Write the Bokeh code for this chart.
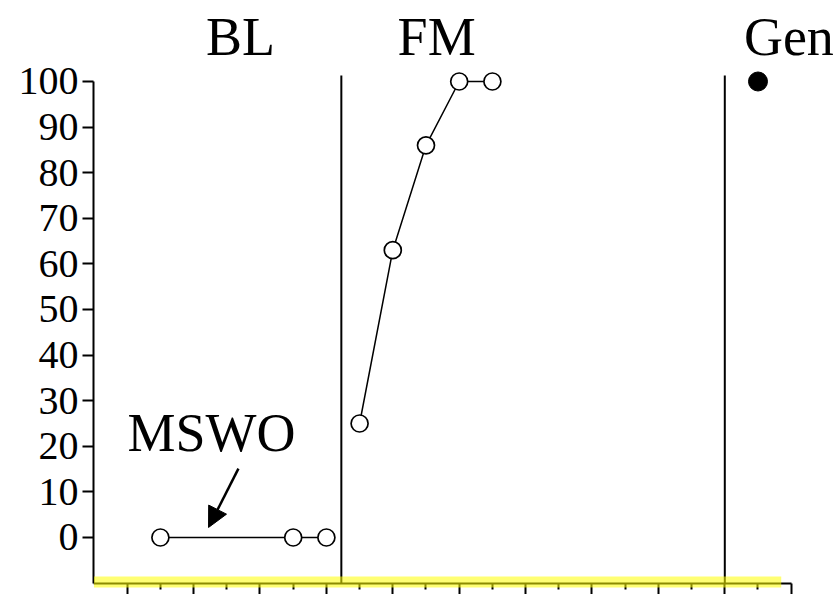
from bokeh.plotting import figure
from bokeh.models import (Range1d, FixedTicker, LinearAxis, Arrow, NormalHead,
                          BoxAnnotation, ColumnDataSource)
from bokeh.core.properties import value
from bokeh.embed import file_html
from bokeh.resources import INLINE

# ---- data ----
bl_sessions = [2, 6, 7]
bl_values = [0, 0, 0]
fm_sessions = [8, 9, 10, 11, 12]
fm_values = [25, 63, 86, 100, 100]
gen_sessions = [20]
gen_values = [100]
phase_lines = [7.45, 19]
phase_names = ["BL", "FM", "Gen"]
phase_name_x = [4.41, 10.32, 20.93]
y_ticks = [0, 10, 20, 30, 40, 50, 60, 70, 80, 90, 100]
x_major = [1, 3, 5, 7, 9, 11, 13, 15, 17, 19, 21]
x_minor = [2, 4, 6, 8, 10, 12, 14, 16, 18, 20]

FONT = "Liberation Serif"

p = figure(width=840, height=594, output_backend="svg", toolbar_location=None,
           x_range=Range1d(-0.015, 22.485), y_range=Range1d(-12.5, 117.76),
           min_border_left=93, min_border_right=0, min_border_top=0,
           min_border_bottom=0, x_axis_type=None, y_axis_type=None)
p.outline_line_color = None
p.xgrid.visible = False
p.ygrid.visible = False
p.background_fill_color = "white"
p.border_fill_color = "white"

# y axis
ya = LinearAxis(ticker=FixedTicker(ticks=y_ticks, minor_ticks=[]), bounds=(-10, 100))
ya.axis_line_color = "black"
ya.axis_line_width = 2
ya.major_tick_line_color = "black"
ya.major_tick_line_width = 2
ya.major_tick_out = 11
ya.major_tick_in = 0
ya.minor_tick_line_color = None
ya.major_label_standoff = 4
ya.major_label_text_font = FONT
ya.major_label_text_font_size = "40px"
ya.major_label_text_color = "black"
p.add_layout(ya, "left")

# x axis (fixed at y = -10)
xa = LinearAxis(ticker=FixedTicker(ticks=x_major, minor_ticks=x_minor), bounds=(0, 21))
xa.fixed_location = -10
xa.axis_line_color = "black"
xa.axis_line_width = 2
xa.major_tick_line_color = "black"
xa.major_tick_line_width = 2
xa.major_tick_out = 13
xa.major_tick_in = 0
xa.minor_tick_line_color = "black"
xa.minor_tick_line_width = 2
xa.minor_tick_out = 6
xa.minor_tick_in = 0
xa.major_label_text_font_size = "0px"
xa.major_label_text_color = None
p.add_layout(xa, "below")

# phase change lines
p.segment(x0=phase_lines, x1=phase_lines, y0=[-10] * len(phase_lines),
          y1=[101.3] * len(phase_lines), line_color="black", line_width=2)

# data series
p.line(bl_sessions, bl_values, line_color="black", line_width=1.5)
p.line(fm_sessions, fm_values, line_color="black", line_width=1.5)
p.scatter(bl_sessions, bl_values, marker="circle", size=17, fill_color="white",
          line_color="black", line_width=1.7)
p.scatter(fm_sessions, fm_values, marker="circle", size=17, fill_color="white",
          line_color="black", line_width=1.7)
p.scatter(gen_sessions, gen_values, marker="circle", size=19, fill_color="black",
          line_color="black")

# phase labels
src = ColumnDataSource(dict(x=phase_name_x, y=[109.7] * 3, t=phase_names))
p.text(x="x", y="y", text="t", source=src, text_font=value(FONT),
       text_font_size="54px", text_align="center", text_baseline="alphabetic",
       text_color="black")

# MSWO annotation
p.text(x=[3.54], y=[23.0], text=["MSWO"], text_font=value(FONT),
       text_font_size="54px", text_align="center", text_baseline="alphabetic",
       text_color="black")
p.add_layout(Arrow(end=NormalHead(size=20, fill_color="black", line_color="black"),
                   x_start=4.35, y_start=15.1, x_end=3.45, y_end=2.2,
                   line_color="black", line_width=2.5))

# yellow highlight on x axis
p.add_layout(BoxAnnotation(left=0, right=20.7, top=-8.55, bottom=-10.96,
                           fill_color="#ffff00", fill_alpha=0.55, line_color=None))

open("out.html", "w").write(file_html(p, INLINE))
